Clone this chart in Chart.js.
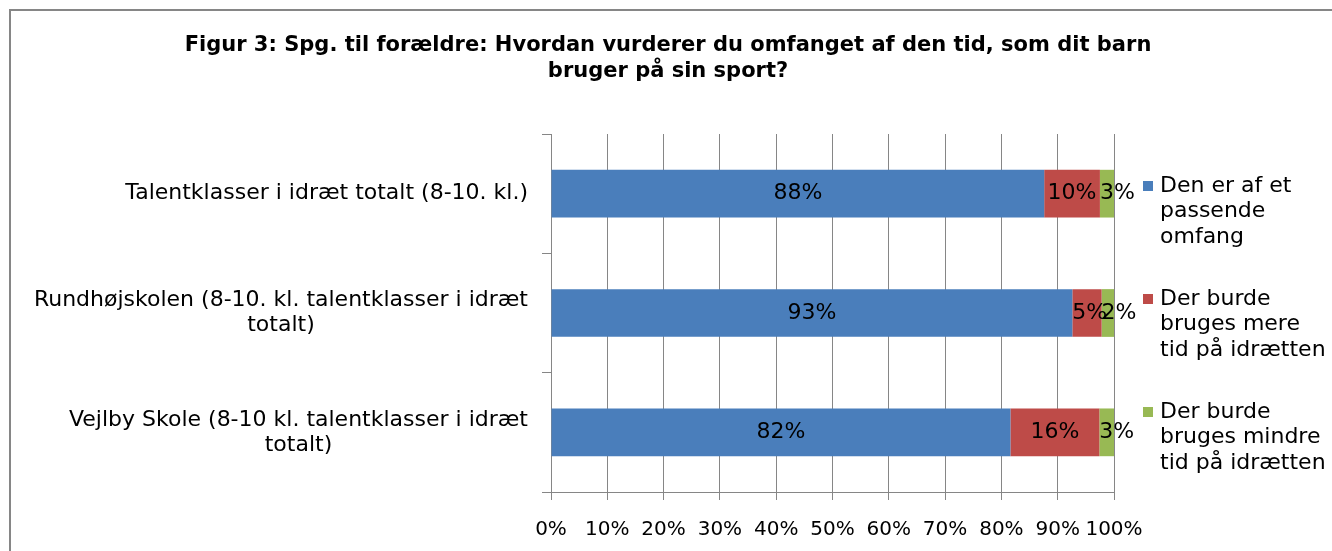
<!DOCTYPE html>
<html>
<head>
<meta charset="utf-8">
<script src="https://cdn.jsdelivr.net/npm/chart.js@4.4.0/dist/chart.umd.min.js"></script>
<style>
  html, body { margin: 0; padding: 0; background: #fff; }
  #wrap { position: relative; width: 1332px; height: 551px; }
</style>
</head>
<body>
<div id="wrap"><canvas id="chart" width="1332" height="551"></canvas></div>
<script>
// values (percent of answers)
const categories = [
    ['Talentklasser i idræt totalt (8-10. kl.)'],
    ['Rundhøjskolen (8-10. kl. talentklasser i idræt', 'totalt)'],
    ['Vejlby Skole (8-10 kl. talentklasser i idræt', 'totalt)'],
];
const seriesNames = [
    ['Den er af et', 'passende', 'omfang'],
    ['Der burde', 'bruges mere', 'tid på idrætten'],
    ['Der burde', 'bruges mindre', 'tid på idrætten'],
];
const passende = [87.6, 92.6, 81.6];
const mere = [9.9, 5.2, 15.8];
const mindre = [2.5, 2.2, 2.6];
const tickLabels = ['0%', '10%', '20%', '30%', '40%', '50%', '60%', '70%', '80%', '90%', '100%'];
const titleLines = [
    'Figur 3: Spg. til forældre: Hvordan vurderer du omfanget af den tid, som dit barn',
    'bruger på sin sport?',
];

const colors = {
    blue: '#4A7EBB',
    red: '#BE4B48',
    green: '#98B954',
    axis: '#868686',
    text: '#000000',
};
const FONT = '"DejaVu Sans", Verdana, sans-serif';
const LABEL_SIZE = 22;
const TICK_SIZE = 20;

// white background, grey frame at top/left and the title
const frame = {
    id: 'frame',
    beforeDraw(chart) {
        const { ctx, width, height } = chart;
        ctx.save();
        ctx.fillStyle = '#fff';
        ctx.fillRect(0, 0, width, height);
        ctx.strokeStyle = colors.axis;
        ctx.lineWidth = 2;
        ctx.beginPath();
        ctx.moveTo(10, height);
        ctx.lineTo(10, 10);
        ctx.lineTo(width, 10);
        ctx.stroke();

        ctx.font = `bold 21px ${FONT}`;
        ctx.fillStyle = colors.text;
        ctx.textAlign = 'center';
        ctx.textBaseline = 'middle';
        titleLines.forEach((l, i) => ctx.fillText(l, 668, 46 + i * 26));
        ctx.restore();
    },
};

// category labels: block right-aligned, lines centred inside the block
const categoryLabels = {
    id: 'categoryLabels',
    afterDraw(chart) {
        const { ctx } = chart;
        const y = chart.scales.y;
        const right = chart.chartArea.left - 23;
        const lh = 25;
        ctx.save();
        ctx.font = `${LABEL_SIZE}px ${FONT}`;
        ctx.fillStyle = colors.text;
        ctx.textBaseline = 'middle';
        ctx.textAlign = 'center';
        categories.forEach((lines, i) => {
            const cy = y.getPixelForValue(i);
            const w = Math.max(...lines.map((l) => ctx.measureText(l).width));
            const cx = right - w / 2;
            lines.forEach((l, j) => {
                ctx.fillText(l, cx, cy + (j - (lines.length - 1) / 2) * lh);
            });
        });
        ctx.restore();
    },
};

// value labels inside the segments
const barLabels = {
    id: 'barLabels',
    afterDatasetsDraw(chart) {
        const { ctx } = chart;
        ctx.save();
        ctx.font = `${LABEL_SIZE}px ${FONT}`;
        ctx.fillStyle = colors.text;
        ctx.textBaseline = 'middle';
        chart.data.datasets.forEach((ds, di) => {
            chart.getDatasetMeta(di).data.forEach((bar, i) => {
                const txt = `${Math.round(ds.data[i])}%`;
                const tw = ctx.measureText(txt).width;
                const left = Math.min(bar.x, bar.base);
                const segW = Math.abs(bar.x - bar.base);
                const p = bar.getCenterPoint();
                if (tw > segW) {
                    ctx.textAlign = 'left';
                    ctx.fillText(txt, left, p.y);
                } else {
                    ctx.textAlign = 'center';
                    ctx.fillText(txt, p.x, p.y);
                }
            });
        });
        ctx.restore();
    },
};

// legend on the right, wrapped over three lines
const sideLegend = {
    id: 'sideLegend',
    afterDraw(chart) {
        const { ctx } = chart;
        const x = chart.chartArea.right + 29;
        const top = chart.chartArea.top + 52;
        const step = 113;
        const lh = 25.5;
        ctx.save();
        ctx.font = `${LABEL_SIZE}px ${FONT}`;
        ctx.textBaseline = 'middle';
        ctx.textAlign = 'left';
        chart.data.datasets.forEach((ds, i) => {
            const y0 = top + i * step;
            ctx.fillStyle = ds.backgroundColor;
            ctx.fillRect(x, y0 - 5, 10, 10);
            ctx.fillStyle = colors.text;
            seriesNames[i].forEach((l, j) => ctx.fillText(l, x + 17, y0 + j * lh));
        });
        ctx.restore();
    },
};

new Chart(document.getElementById('chart'), {
    type: 'bar',
    data: {
        labels: categories,
        datasets: [
            { label: seriesNames[0].join(' '), data: passende, backgroundColor: colors.blue },
            { label: seriesNames[1].join(' '), data: mere, backgroundColor: colors.red },
            { label: seriesNames[2].join(' '), data: mindre, backgroundColor: colors.green },
        ],
    },
    options: {
        indexAxis: 'y',
        responsive: false,
        animation: false,
        layout: { padding: { left: 0, right: 218, top: 134, bottom: 0 } },
        datasets: { bar: { categoryPercentage: 1, barPercentage: 0.4, borderWidth: 0 } },
        plugins: {
            legend: { display: false },
            tooltip: { enabled: false },
            title: { display: false },
        },
        scales: {
            x: {
                stacked: true,
                min: 0,
                max: 100,
                ticks: {
                    stepSize: 10,
                    autoSkip: false,
                    maxRotation: 0,
                    color: colors.text,
                    font: { family: FONT, size: TICK_SIZE },
                    padding: 18,
                    callback: (v, i) => tickLabels[i],
                },
                grid: { color: colors.axis, tickLength: 8 },
                border: { color: colors.axis },
                afterFit: (s) => { s.height = 59; },
            },
            y: {
                stacked: true,
                ticks: { display: false },
                grid: { drawOnChartArea: false, offset: true, tickLength: 9, color: colors.axis },
                border: { color: colors.axis },
                afterFit: (s) => { s.width = 551; },
            },
        },
    },
    plugins: [frame, barLabels, categoryLabels, sideLegend],
});
</script>
</body>
</html>
